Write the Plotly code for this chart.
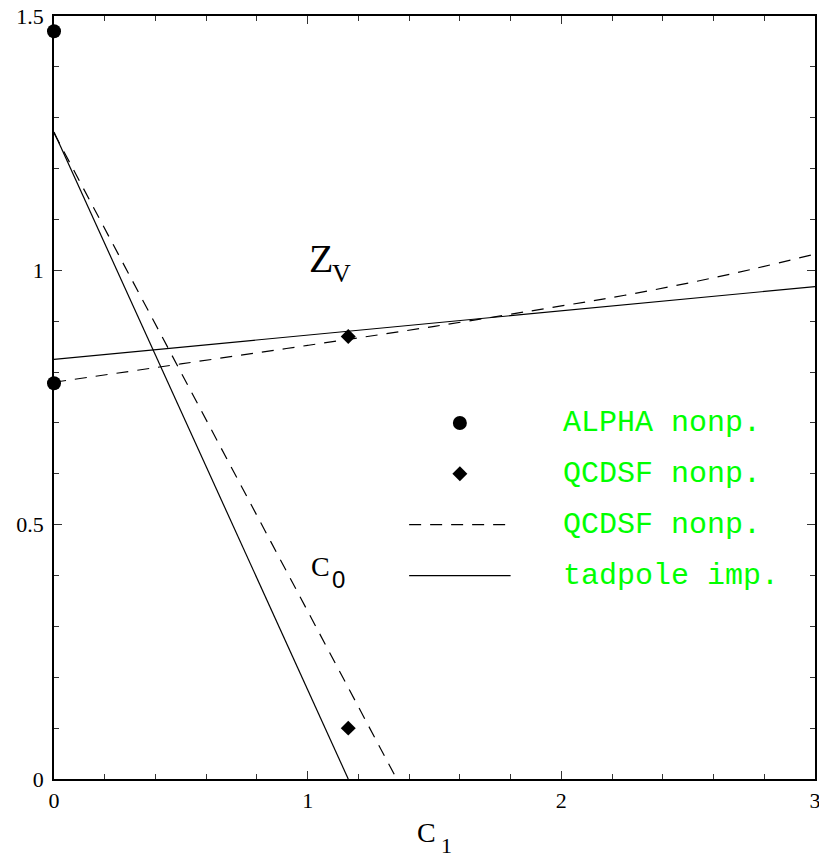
import plotly.graph_objects as go

# ALPHA non-perturbative points (c1 = 0)
alpha_x = [0.0, 0.0]
alpha_y = [1.470, 0.778]

# QCDSF non-perturbative points
qcdsf_x = [1.16, 1.16]
qcdsf_y = [0.870, 0.100]

# Z_V curves
zv_nonp_x = [0.0, 0.5, 1.0, 1.5, 2.0, 2.25, 2.5, 2.75, 3.0]
zv_nonp_y = [0.780, 0.816, 0.8525, 0.890, 0.930, 0.951, 0.975, 1.002, 1.032]
zv_tad_x = [0.0, 3.0]
zv_tad_y = [0.825, 0.968]

# c0 lines
c0_nonp_x = [0.0, 1.351]
c0_nonp_y = [1.270, 0.0]
c0_tad_x = [0.0, 1.160]
c0_tad_y = [1.272, 0.0]

# legend entries
legend_labels = ["ALPHA nonp.", "QCDSF nonp.", "QCDSF nonp.", "tadpole imp."]
legend_y = [0.70, 0.60, 0.50, 0.40]

DASH = "12px,9px"
SERIF = "Liberation Serif, Times New Roman, serif"

fig = go.Figure()

line_common = dict(mode="lines", showlegend=False, hoverinfo="skip")
fig.add_trace(go.Scatter(x=zv_nonp_x, y=zv_nonp_y, line=dict(color="black", width=1.2, dash=DASH, shape="spline", smoothing=1.0), **line_common))
fig.add_trace(go.Scatter(x=zv_tad_x, y=zv_tad_y, line=dict(color="black", width=1.2), **line_common))
fig.add_trace(go.Scatter(x=c0_nonp_x, y=c0_nonp_y, line=dict(color="black", width=1.2, dash=DASH), **line_common))
fig.add_trace(go.Scatter(x=c0_tad_x, y=c0_tad_y, line=dict(color="black", width=1.2), **line_common))

fig.add_trace(go.Scatter(x=alpha_x, y=alpha_y, mode="markers", cliponaxis=False, showlegend=False,
                         marker=dict(symbol="circle", size=14, color="black")))
fig.add_trace(go.Scatter(x=qcdsf_x, y=qcdsf_y, mode="markers", cliponaxis=False, showlegend=False,
                         marker=dict(symbol="diamond", size=11.5, color="black")))

# in-plot key
fig.add_trace(go.Scatter(x=[1.60], y=[legend_y[0]], mode="markers", showlegend=False,
                         marker=dict(symbol="circle", size=14, color="black")))
fig.add_trace(go.Scatter(x=[1.60], y=[legend_y[1]], mode="markers", showlegend=False,
                         marker=dict(symbol="diamond", size=11.5, color="black")))
fig.add_trace(go.Scatter(x=[1.40, 1.78], y=[legend_y[2]] * 2, line=dict(color="black", width=1.2, dash=DASH), **line_common))
fig.add_trace(go.Scatter(x=[1.40, 1.80], y=[legend_y[3]] * 2, line=dict(color="black", width=1.2), **line_common))

for lab, yy in zip(legend_labels, legend_y):
    fig.add_annotation(x=2.0, y=yy, xref="x", yref="y", text=lab, showarrow=False,
                       xanchor="left", yanchor="middle",
                       font=dict(family="Liberation Mono, Courier New, monospace", size=30, color="#00ff00"))

# curve labels
fig.add_annotation(x=1.054, y=1.023, xref="x", yref="y", text="Z", showarrow=False,
                   xanchor="center", yanchor="middle", font=dict(family=SERIF, size=40, color="black"))
fig.add_annotation(x=1.135, y=0.993, xref="x", yref="y", text="V", showarrow=False,
                   xanchor="center", yanchor="middle", font=dict(family=SERIF, size=26, color="black"))
fig.add_annotation(x=1.052, y=0.418, xref="x", yref="y", text="C", showarrow=False,
                   xanchor="center", yanchor="middle", font=dict(family=SERIF, size=28, color="black"))
fig.add_annotation(x=1.122, y=0.393, xref="x", yref="y", text="0", showarrow=False,
                   xanchor="center", yanchor="middle", font=dict(family="Liberation Sans, Arial, sans-serif", size=24, color="black"))

# x-axis title
fig.add_annotation(x=1.468, y=-0.0695, xref="x", yref="paper", text="C", showarrow=False,
                   xanchor="center", yanchor="middle", font=dict(family=SERIF, size=28, color="black"))
fig.add_annotation(x=1.547, y=-0.087, xref="x", yref="paper", text="1", showarrow=False,
                   xanchor="center", yanchor="middle", font=dict(family=SERIF, size=22, color="black"))

axis_common = dict(
    showline=True, linecolor="black", linewidth=1.5, mirror="allticks",
    ticks="inside", ticklen=8, tickwidth=1, tickcolor="#333",
    showgrid=False, zeroline=False, automargin=False,
    ticklabeloverflow="allow",
    tickfont=dict(family=SERIF, size=22, color="black"),
)

fig.update_xaxes(range=[0, 3], tickvals=[0, 1, 2, 3], ticklabelstandoff=1,
                 minor=dict(tickvals=[0.2 * i for i in range(1, 15)], ticks="inside", ticklen=5, tickcolor="#333", showgrid=False),
                 **axis_common)
fig.update_yaxes(range=[0, 1.5], tickvals=[0, 0.5, 1, 1.5], ticktext=["0", "0.5", "1", "1.5"], ticklabelstandoff=4,
                 minor=dict(tickvals=[0.1 * i for i in range(1, 15)], ticks="inside", ticklen=5, tickcolor="#333", showgrid=False),
                 **axis_common)

fig.update_layout(
    width=819, height=858,
    margin=dict(l=54, r=4, t=16, b=79),
    plot_bgcolor="white", paper_bgcolor="white",
    showlegend=False,
)

fig.write_html("out.html")
